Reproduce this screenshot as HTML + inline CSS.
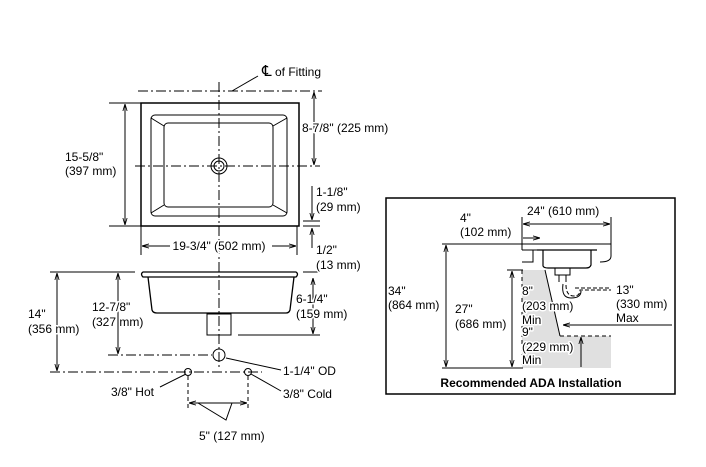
<!DOCTYPE html>
<html><head><meta charset="utf-8"><style>
html,body{margin:0;padding:0;background:#fff;width:706px;height:467px;overflow:hidden}
text{font-family:"Liberation Sans",sans-serif;font-size:12px;fill:#000;stroke:#fff;stroke-width:3px;paint-order:stroke;stroke-linejoin:round}
</style></head><body>
<svg width="706" height="467" viewBox="0 0 706 467" xmlns="http://www.w3.org/2000/svg">
<defs>
<marker id="a" viewBox="0 0 10 10" refX="10" refY="5" markerWidth="7" markerHeight="7" orient="auto-start-reverse"><path d="M0,2 L10,5 L0,8" fill="none" stroke="#000" stroke-width="1.2"/></marker>
</defs>
<g stroke="#000" fill="none" stroke-width="1">
<rect x="141" y="103" width="158" height="123" stroke-width="1.5"/>
<rect x="151" y="115" width="136" height="101" rx="4"/>
<rect x="164" y="123" width="109" height="84" rx="4"/>
<path d="M151,118 L164,126 M287,118 L273,126 M151,213 L164,205 M287,213 L273,205"/>
<circle cx="219" cy="166" r="8"/><circle cx="219" cy="166" r="5"/>
<path d="M138,91 H322 M135,166 H320 M219,82 V370" stroke-dasharray="10,3,2,3"/>
<path d="M232,91 L258,76"/>
<path d="M314,92 V165" marker-start="url(#a)" marker-end="url(#a)"/>
<path d="M109,103 H141 M109,226 H141"/>
<path d="M125,104 V225" marker-start="url(#a)" marker-end="url(#a)"/>
<path d="M303,226 H320 M303,221 H320"/>
<path d="M312,186 V220" marker-end="url(#a)"/>
<path d="M312,248 V228" marker-end="url(#a)"/>
<path d="M303,272 H320"/>
<path d="M141,226 V255 M297,226 V255"/>
<path d="M170,246 H142" marker-end="url(#a)"/><path d="M272,246 H296" marker-end="url(#a)"/>
<path d="M143,272 H296 Q299,274 296,277 H143 Q140,274 143,272 Z" stroke-width="1.3"/>
<path d="M148,277 L152,310 Q153,313 157,313 H286 Q289,313 290,310 L294,277" stroke-width="1.3"/>
<rect x="207" y="314" width="24" height="21"/>
<path d="M238,335 H320"/>
<path d="M313,278 V334" marker-start="url(#a)" marker-end="url(#a)"/>
<path d="M50,272 H135"/>
<path d="M57,273 V371" marker-start="url(#a)" marker-end="url(#a)"/>
<path d="M118,273 V354" marker-start="url(#a)" marker-end="url(#a)"/>
<path d="M108,355 H212 M50,372 H262" stroke-dasharray="10,3,2,3"/>
<circle cx="219" cy="355" r="6"/>
<circle cx="188" cy="372" r="3.5"/><circle cx="248" cy="372" r="3.5"/>
<path d="M188,376 V408 M248,376 V408" stroke-dasharray="4,3"/>
<path d="M189,403 H247" marker-start="url(#a)" marker-end="url(#a)"/>
<path d="M198,403 L226,420 L232,403"/>
<path d="M226,358 L281,370 M186,374 L160,387 M251,374 L281,391"/>
<rect x="386" y="198" width="289" height="196" stroke-width="1.5"/>
<path d="M522,270 H545 L560,336 H611 V368 H522 Z" fill="#e0e0e0" stroke="none"/>
<path d="M545,270 L560,336"/>
<path d="M560,336 H611" stroke-dasharray="4,3"/>
<path d="M522,270 V368" stroke-dasharray="4,3"/>
<path d="M442,244 H611 M522,217 V244 M611,217 V244"/>
<path d="M523,224 H610" marker-start="url(#a)" marker-end="url(#a)"/>
<path d="M523,238 H540" marker-end="url(#a)"/>
<path d="M522,244 V250 M522,250 H533 V262 H522 M533,250 H540"/>
<path d="M537,250 H597 M543,250 V266 Q544,268 548,268 H586 Q590,268 591,265 V250" stroke-width="1.2"/>
<path d="M555,268 V275 H570 V268 M559,275 V282 M566,275 V282"/>
<path d="M566,285 Q566,296 574,296 Q580,296 580,290 L611,290 M575,288 L611,288" stroke-dasharray="4,2"/>
<path d="M563,284 Q561,298 571,298 Q581,298 581,291"/>
<path d="M442,368 H523"/>
<path d="M446,245 V367" marker-start="url(#a)" marker-end="url(#a)"/>
<path d="M507,270 H523"/>
<path d="M512,271 V367" marker-start="url(#a)" marker-end="url(#a)"/>
<path d="M581,337 V367" marker-start="url(#a)"/>
<path d="M672,325 H563" marker-end="url(#a)"/>
<path d="M611,244 V256 Q611,262 600,262"/>
</g>
<text x="262" y="76"><tspan font-size="15">℄</tspan> of Fitting</text>
<text x="302" y="132">8-7/8" (225 mm)</text>
<text x="65" y="161">15-5/8"</text><text x="65" y="175">(397 mm)</text>
<text x="316" y="196">1-1/8"</text><text x="316" y="211">(29 mm)</text>
<text x="219" y="250" text-anchor="middle">19-3/4" (502 mm)</text>
<text x="316" y="254">1/2"</text><text x="316" y="269">(13 mm)</text>
<text x="296" y="303">6-1/4"</text><text x="296" y="318">(159 mm)</text>
<text x="28" y="318">14"</text><text x="28" y="333">(356 mm)</text>
<text x="92" y="311">12-7/8"</text><text x="92" y="326">(327 mm)</text>
<text x="283" y="375">1-1/4" OD</text>
<text x="111" y="396">3/8" Hot</text>
<text x="283" y="398">3/8" Cold</text>
<text x="199" y="440">5" (127 mm)</text>
<text x="527" y="215">24" (610 mm)</text>
<text x="460" y="222">4"</text><text x="460" y="236">(102 mm)</text>
<text x="388" y="295">34"</text><text x="388" y="309">(864 mm)</text>
<text x="455" y="313">27"</text><text x="455" y="328">(686 mm)</text>
<text x="522" y="295" stroke="none">8"</text><text x="522" y="310" stroke="none">(203 mm)</text><text x="522" y="324" stroke="none">Min</text>
<text x="522" y="336" stroke="none">9"</text><text x="522" y="351" stroke="none">(229 mm)</text><text x="522" y="364" stroke="none">Min</text>
<text x="616" y="294">13"</text><text x="616" y="308">(330 mm)</text><text x="616" y="322">Max</text>
<text x="531" y="387" text-anchor="middle" font-weight="bold">Recommended ADA Installation</text>
</svg>
</body></html>
